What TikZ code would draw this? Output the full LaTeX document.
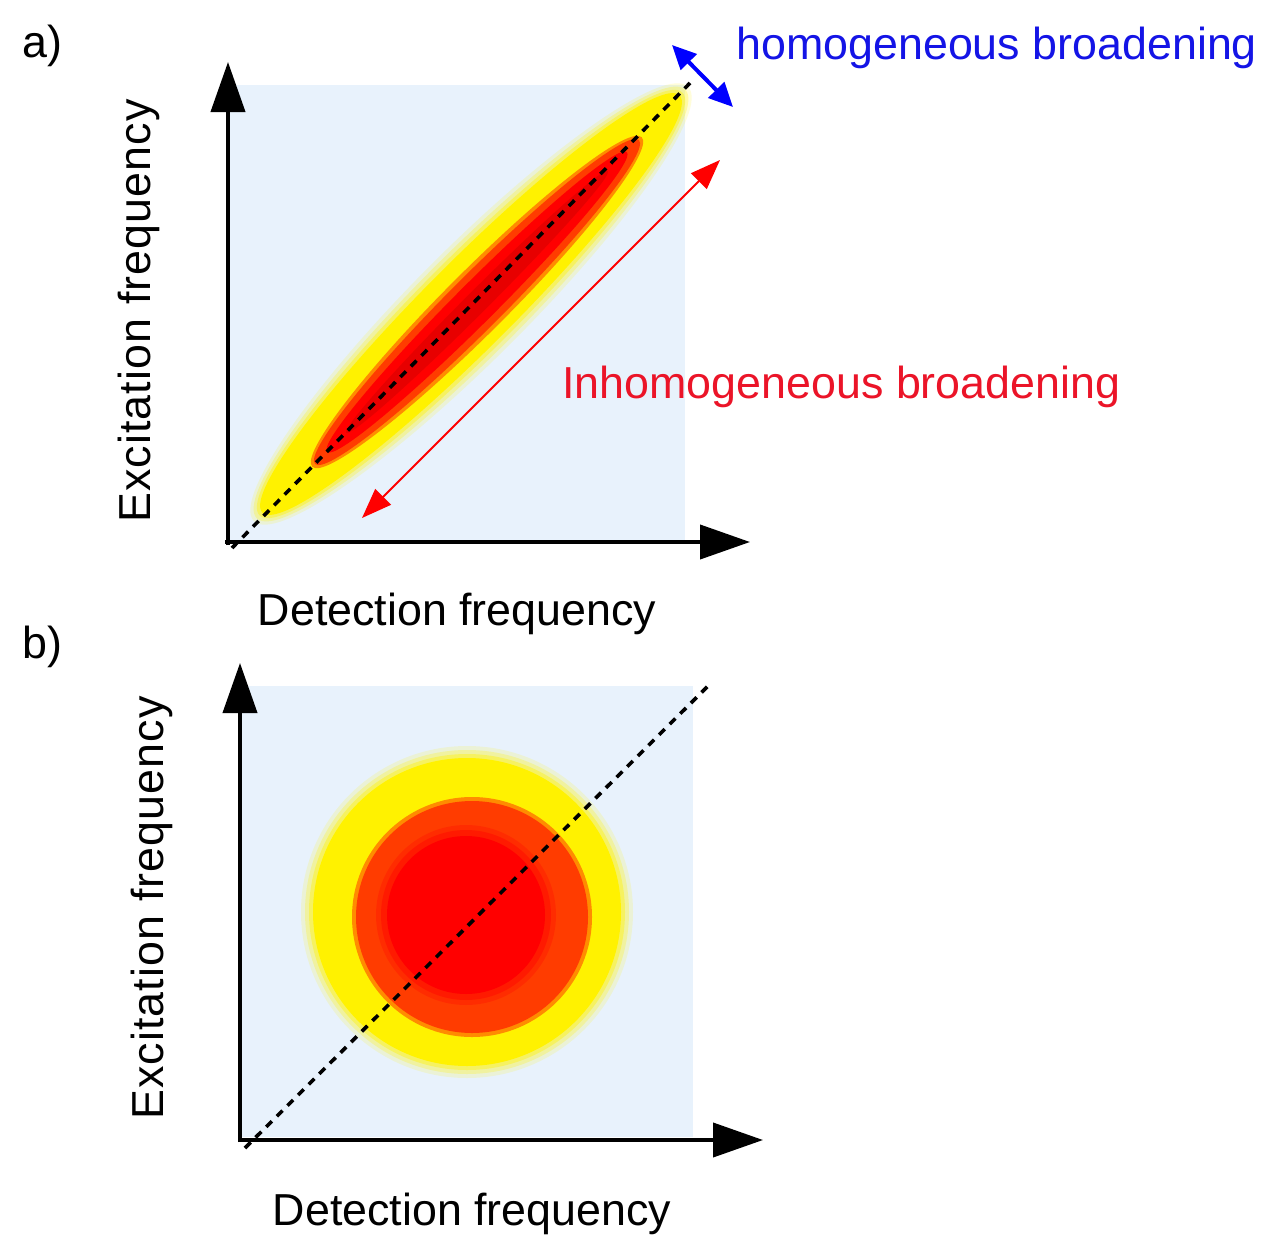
\documentclass[tikz,border=0pt]{standalone}
\usepackage{fontspec}
\setmainfont{Liberation Sans}
\usetikzlibrary{arrows.meta}
\definecolor{bgblue}{RGB}{232,242,252}
\definecolor{orgline}{RGB}{255,140,0}
\definecolor{orgred}{RGB}{255,60,0}
\definecolor{darkred}{RGB}{215,0,0}
\definecolor{hblue}{RGB}{20,20,230}
\definecolor{ired}{RGB}{235,20,40}
\begin{document}
\begin{tikzpicture}[x=0.5pt,y=-0.5pt,
  lbl/.style={font=\fontsize{22.4}{26}\selectfont, inner sep=0pt},
  spaced/.style={font=\fontsize{22.4}{26}\selectfont\addfontfeature{LetterSpace=2.5}},
  axisline/.style={line width=2pt, -{Triangle[length=25pt,width=17pt]}},
  diagline/.style={line width=1.8pt, dash pattern=on 4pt off 3.5pt},
  redarrow/.style={draw=red, line width=1pt, {Triangle[length=15pt,width=11pt]}-{Triangle[length=15pt,width=11pt]}},
  bluearrow/.style={draw=blue, line width=2pt, {Triangle[length=12pt,width=11pt]}-{Triangle[length=12pt,width=11pt]}}]
\useasboundingbox (0,0) rectangle (1280,1258);
\fill[white] (0,0) rectangle (1280,1258);

% ---------- panel a ----------
\fill[bgblue] (228,85) rectangle (685,540);
\foreach \a/\b/\o in {307/56/0.15, 303/52/0.25, 299/48/0.4} {
  \fill[yellow, opacity=\o, rotate around={45:(471,304)}] (471,304) ellipse [x radius=\a, y radius=\b];
}
\fill[yellow, rotate around={45:(471,304)}] (471,304) ellipse [x radius=295, y radius=44];
\fill[orgline, rotate around={45:(477,302)}] (477,302) ellipse [x radius=233, y radius=31];
\fill[orgred, rotate around={45:(477,302)}] (477,302) ellipse [x radius=229, y radius=27];
\fill[red, rotate around={45:(477,302)}] (477,302) ellipse [x radius=212, y radius=20];
\fill[darkred, opacity=0.6, rotate around={45:(477,302)}] (477,302) ellipse [x radius=185, y radius=11];

\coordinate (da1) at (232,548);
\coordinate (da2) at (690,83);
\draw[diagline] (da1) -- (da2);

\coordinate (ya0) at (228,545);
\coordinate (ya1) at (228,62);
\coordinate (xa0) at (225,542);
\coordinate (xa1) at (750,542);
\draw[axisline] (ya0) -- (ya1);
\draw[axisline] (xa0) -- (xa1);

\coordinate (ra1) at (362,518);
\coordinate (ra2) at (720,160);
\draw[redarrow] (ra1) -- (ra2);

\coordinate (ba1) at (672,45);
\coordinate (ba2) at (733,107);
\draw[bluearrow] (ba1) -- (ba2);

\node[lbl, anchor=base west] (la) at (22,57) {a)};
\node[lbl, anchor=base west, text=hblue] (hom) at (736,59) {homogeneous broadening};
\node[lbl, anchor=base west, text=ired] (inh) at (562,398) {Inhomogeneous broadening};
\node[lbl, spaced, anchor=base, rotate=90] (exa) at (150,311) {Excitation frequency};
\node[lbl, anchor=base] (deta) at (457,625) {Detection frequency};

% ---------- panel b ----------
\fill[bgblue] (240,686) rectangle (693,1137);
\foreach \r/\o in {166/0.15, 162/0.25, 158/0.4} {
  \fill[yellow, opacity=\o] (467,912) circle [radius=\r];
}
\fill[yellow] (467,912) circle [radius=154];
\fill[orgline] (472,917) circle [radius=120];
\fill[orgred] (472,917) circle [radius=116];
\foreach \r/\o in {90/0.25, 85/0.4} {
  \fill[red, opacity=\o] (466,915) circle [radius=\r];
}
\fill[red] (466,915) circle [radius=79];

\coordinate (db1) at (245,1148);
\coordinate (db2) at (712,682);
\draw[diagline] (db1) -- (db2);

\coordinate (yb0) at (240,1142);
\coordinate (yb1) at (240,663);
\coordinate (xb0) at (238,1140);
\coordinate (xb1) at (763,1140);
\draw[axisline] (yb0) -- (yb1);
\draw[axisline] (xb0) -- (xb1);

\node[lbl, anchor=base west] (lb) at (22,658) {b)};
\node[lbl, spaced, anchor=base, rotate=90] (exb) at (163,908) {Excitation frequency};
\node[lbl, anchor=base] (detb) at (472,1225) {Detection frequency};
\end{tikzpicture}
\end{document}
